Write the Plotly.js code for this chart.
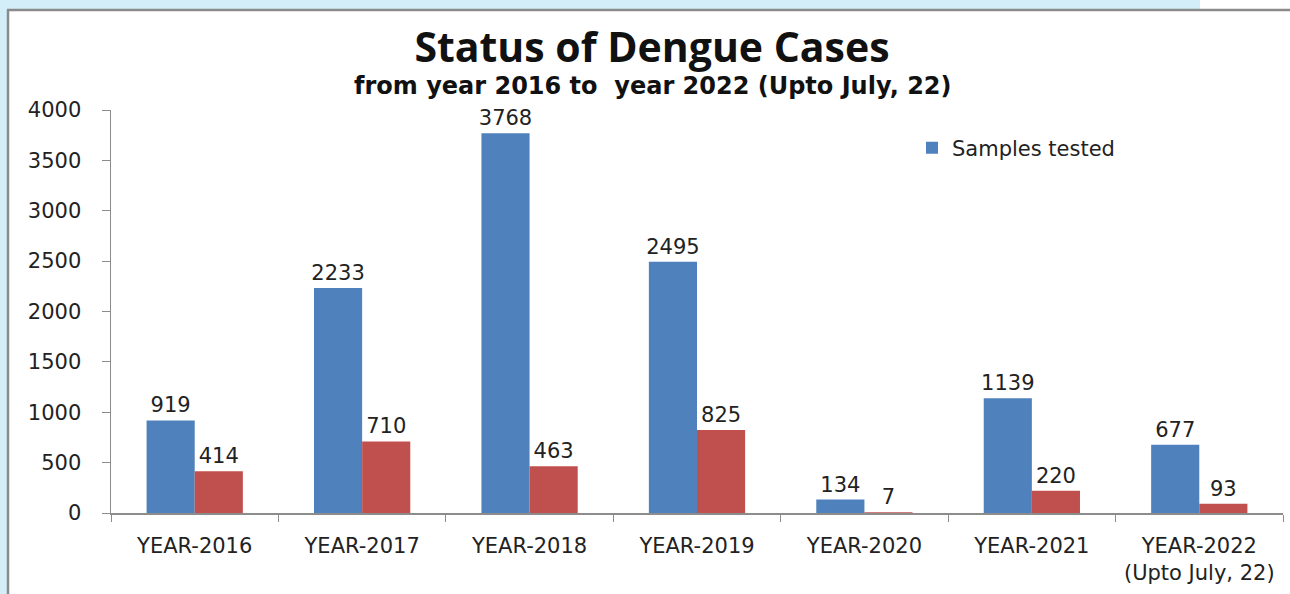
<!DOCTYPE html>
<html>
<head>
<meta charset="utf-8">
<script src="https://cdn.plot.ly/plotly-3.0.1.min.js"></script>
<style>html,body{margin:0;padding:0;background:#fff;}#chart{width:1290px;height:594px;}</style>
</head>
<body>
<div id="chart"></div>
<script>
const categories = ["YEAR-2016","YEAR-2017","YEAR-2018","YEAR-2019","YEAR-2020","YEAR-2021","YEAR-2022<br>(Upto July, 22)"];
const samplesTested = [919, 2233, 3768, 2495, 134, 1139, 677];
const positiveCases = [414, 710, 463, 825, 7, 220, 93];
const seriesNames = ["Samples tested", "Positive cases"];
const yTicks = [0, 500, 1000, 1500, 2000, 2500, 3000, 3500, 4000];

const W = 1290, H = 594;
const L = 111, R = 7, T = 110, B = 81;
const pw = W - L - R, ph = H - T - B;
const px = v => (v - L) / pw;
const py = v => (H - B - v) / ph;

const labelFont = {family: "DejaVu Sans, Verdana, sans-serif", size: 21, color: "#222"};

const traces = [
  {type: "bar", name: seriesNames[0], x: categories, y: samplesTested,
   marker: {color: "#4f81bd"}, text: samplesTested.map(String), textposition: "outside",
   constraintext: "none", textfont: labelFont, cliponaxis: false, hoverinfo: "x+y"},
  {type: "bar", name: seriesNames[1], x: categories, y: positiveCases, showlegend: false,
   marker: {color: "#c0504d"}, text: positiveCases.map(String), textposition: "outside",
   constraintext: "none", textfont: labelFont, cliponaxis: false, hoverinfo: "x+y"}
];

const layout = {
  width: W, height: H,
  margin: {l: L, r: R, t: T, b: B, pad: 0},
  paper_bgcolor: "#ffffff", plot_bgcolor: "#ffffff",
  barmode: "group", bargap: 0.425, bargroupgap: 0,
  title: {text: "<b>Status of Dengue Cases</b>", x: 652 / W, xanchor: "center",
          y: 1 - 48 / H, yanchor: "middle", yref: "container",
          font: {family: "Open Sans, sans-serif", size: 41, color: "#111"}},
  annotations: [{text: "<b>from year 2016 to  year 2022 (Upto July, 22)</b>", xref: "paper", yref: "paper",
                 x: px(653), y: py(86), xanchor: "center", yanchor: "middle", showarrow: false,
                 font: {family: "DejaVu Sans, sans-serif", size: 24, color: "#111"}}],
  showlegend: true,
  legend: {x: px(912), y: py(148), xanchor: "left", yanchor: "middle", bgcolor: "rgba(0,0,0,0)",
           font: {family: "DejaVu Sans, Verdana, sans-serif", size: 21, color: "#222"},
           itemwidth: 30},
  xaxis: {type: "category", showline: true, linecolor: "#8c8c8c", linewidth: 1.5,
          ticks: "outside", tickson: "boundaries", ticklen: 7, tickcolor: "#8c8c8c",
          tickfont: labelFont, ticklabelstandoff: 13, showgrid: false, zeroline: false, fixedrange: true},
  yaxis: {range: [0, 4000], tickvals: yTicks, ticktext: yTicks.map(String), showline: true,
          linecolor: "#8c8c8c", linewidth: 1.5, ticks: "outside", ticklen: 8, tickcolor: "#8c8c8c",
          tickfont: labelFont, ticklabelstandoff: 16, showgrid: false, zeroline: false, fixedrange: true},
  shapes: [
    {type: "rect", xref: "paper", yref: "paper", x0: px(0), x1: px(1200), y0: py(9), y1: py(0),
     fillcolor: "#d3eef9", line: {width: 0}, layer: "below"},
    {type: "rect", xref: "paper", yref: "paper", x0: px(0), x1: px(7), y0: py(H), y1: py(0),
     fillcolor: "#d3eef9", line: {width: 0}, layer: "below"},
    {type: "line", xref: "paper", yref: "paper", x0: px(7), x1: px(W), y0: py(10), y1: py(10),
     line: {color: "#8a8a8a", width: 2.5}},
    {type: "line", xref: "paper", yref: "paper", x0: px(8), x1: px(8), y0: py(10), y1: py(H),
     line: {color: "#8a8a8a", width: 2.5}}
  ]
};

Plotly.newPlot("chart", traces, layout, {displayModeBar: false, staticPlot: true});
</script>
</body>
</html>
